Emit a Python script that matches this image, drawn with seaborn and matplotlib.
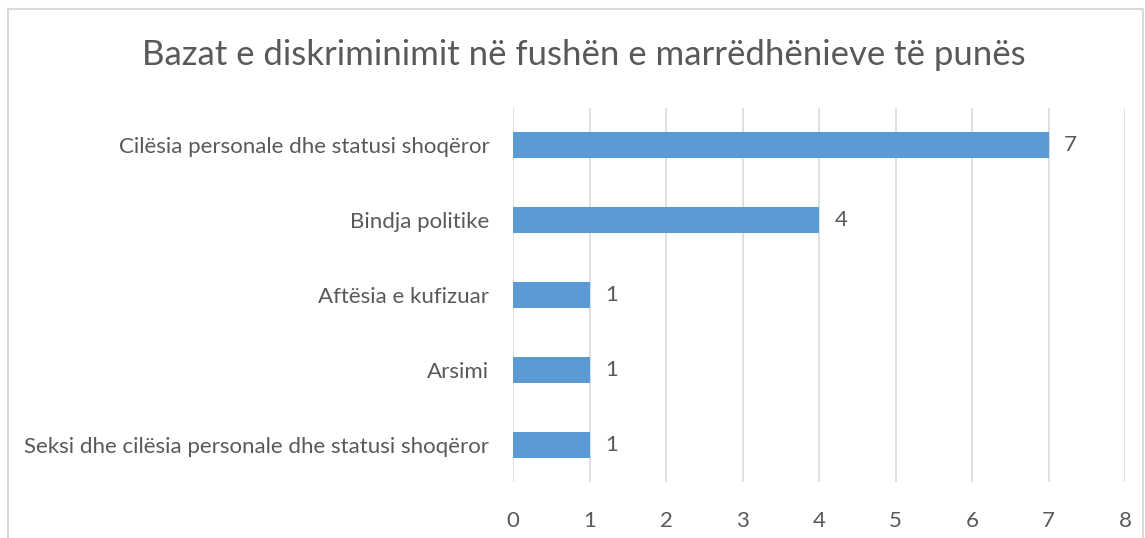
import matplotlib
matplotlib.use("Agg")
import matplotlib.pyplot as plt
import seaborn as sns
import pandas as pd
from matplotlib.patches import Rectangle

categories = [
    "Cilësia personale dhe statusi shoqëror",
    "Bindja politike",
    "Aftësia e kufizuar",
    "Arsimi",
    "Seksi dhe cilësia personale dhe statusi shoqëror",
]
values = [7, 4, 1, 1, 1]
xticks = [0, 1, 2, 3, 4, 5, 6, 7, 8]
title = "Bazat e diskriminimit në fushën e marrëdhënieve të punës"

sns.set_theme(style="white")
plt.rcParams['font.family'] = ['Lato', 'DejaVu Sans']

TEXT = "#595959"
GRID = "#d9d9d9"
BAR = "#5B9BD5"

df = pd.DataFrame({"cat": categories, "val": values})

fig = plt.figure(figsize=(11.45, 5.38), dpi=100)
ax = fig.add_axes([513/1145, 1-482/538, (1125-513)/1145, (482-108)/538])

sns.barplot(data=df, y="cat", x="val", orient="h", color=BAR, width=0.35,
            saturation=1, ax=ax, edgecolor="none")

ax.set_xlim(0, 8)
ax.set_ylim(4.5, -0.5)
ax.set_xticks(xticks)
ax.set_xticklabels([str(t) for t in xticks])
ax.set_xlabel("")
ax.set_ylabel("")
ax.grid(axis="x", color=GRID, linewidth=1.2)
ax.set_axisbelow(True)
for s in ax.spines.values():
    s.set_visible(False)
ax.tick_params(axis="x", length=0, pad=21, labelsize=16, labelcolor=TEXT)
ax.tick_params(axis="y", length=0, pad=17, labelsize=16, labelcolor=TEXT)

for i, v in enumerate(values):
    ax.annotate(str(v), xy=(v, i), xytext=(11, 0), textcoords="offset points",
                va="center", ha="left", fontsize=16, color=TEXT)

fig.text(583.5/1145, 1-55/538, title, ha="center", va="center", fontsize=25, color=TEXT)

fig.patches.append(Rectangle((8/1145, -0.1), (1143-8)/1145, (1-9/538)+0.1,
                             transform=fig.transFigure, fill=False,
                             edgecolor=GRID, linewidth=1.5, figure=fig))

fig.savefig("out.png", dpi=100)
